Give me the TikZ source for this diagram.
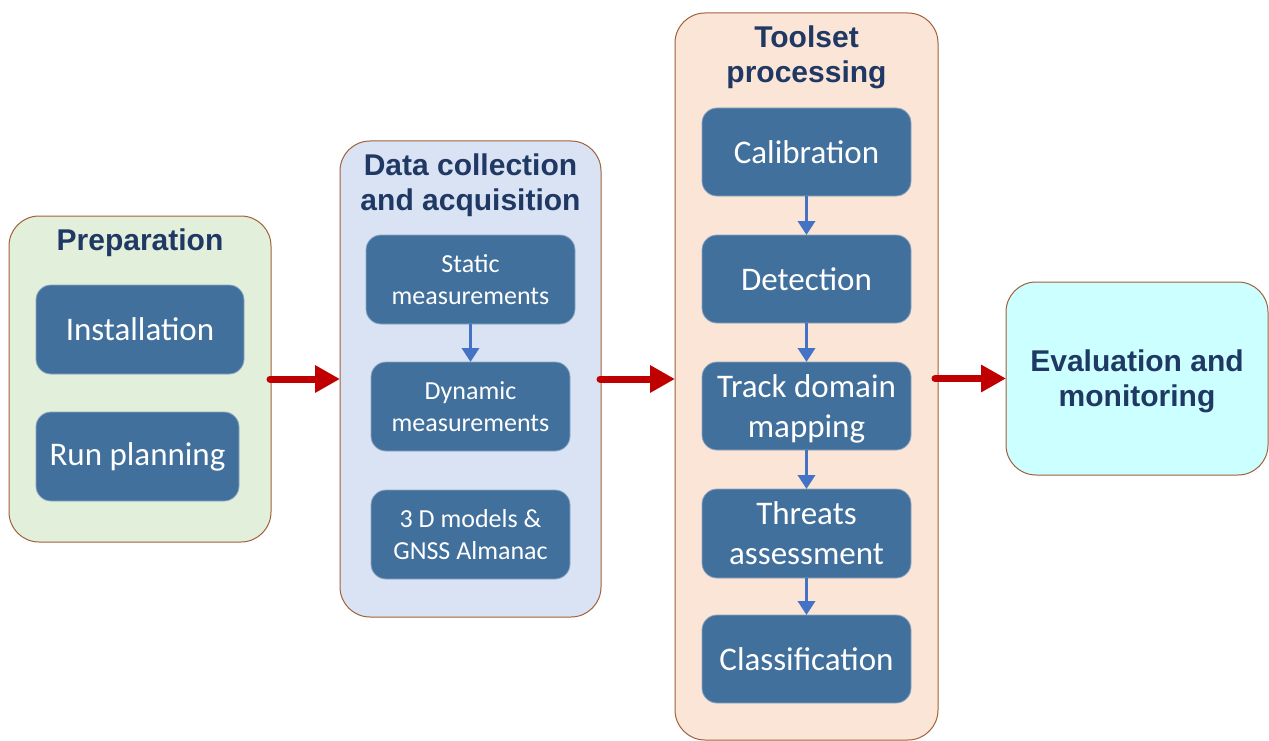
\documentclass[tikz,border=0pt]{standalone}
\usepackage{fontspec}
\setmainfont{Carlito}
\newfontfamily\titlefont{Liberation Sans}
\usetikzlibrary{arrows.meta}
\definecolor{innerblue}{HTML}{41709C}
\definecolor{innerline}{HTML}{8DA5C2}
\definecolor{titlenavy}{HTML}{1F3864}
\definecolor{outerline}{HTML}{A0603A}
\definecolor{prepfill}{HTML}{E2EFDA}
\definecolor{datafill}{HTML}{DAE3F3}
\definecolor{toolfill}{HTML}{FBE5D6}
\definecolor{evalfill}{HTML}{CCFFFF}
\definecolor{arrowred}{HTML}{C00000}
\definecolor{arrowblue}{HTML}{4472C4}
\tikzset{
  outerbox/.style={draw=outerline, line width=1pt, rounded corners=30pt, inner sep=0pt, outer sep=0pt},
  innerbox/.style={draw=innerline, line width=0.8pt, fill=innerblue, rounded corners=15pt, inner sep=0pt, outer sep=0pt, text=white, align=center, font=\fontsize{33}{40}\selectfont},
  smallbox/.style={innerbox, font=\fontsize{26}{32}\selectfont},
  titletext/.style={text=titlenavy, align=center, font=\titlefont\bfseries\fontsize{30}{35}\selectfont, inner sep=0pt},
  redarrow/.style={draw=arrowred, line width=7pt, line cap=round, -{Triangle[length=25pt,width=26pt]}},
  bluearrow/.style={draw=arrowblue, line width=3.5pt, -{Triangle[length=14pt,width=17pt]}},
}
\begin{document}
\begin{tikzpicture}[x=1pt,y=-1pt]
\useasboundingbox (0,0) rectangle (1269,741);
% outer containers
\node[outerbox, fill=prepfill, minimum width=262pt, minimum height=326pt] (prep) at (140,379) {};
\node[outerbox, fill=datafill, minimum width=261pt, minimum height=476pt] (data) at (470.5,379) {};
\node[outerbox, fill=toolfill, minimum width=263pt, minimum height=727pt] (tool) at (806.5,376.5) {};
\node[outerbox, fill=evalfill, minimum width=262pt, minimum height=193pt] (eval) at (1137,378.5) {};
\node[titletext] (evaltext) at (1137,381.5) {Evaluation and\\monitoring};
% titles
\node[titletext] (preptitle) at (140,243) {Preparation};
\node[titletext] (datatitle) at (470.5,185.5) {Data collection\\and acquisition};
\node[titletext] (tooltitle) at (806.5,57.5) {Toolset\\processing};
% preparation
\node[innerbox, minimum width=208pt, minimum height=89pt] (inst) at (140,329.5) {Installation};
\node[innerbox, minimum width=203pt, minimum height=89pt] (run) at (137.5,456.5) {Run planning};
% data collection
\node[smallbox, minimum width=209pt, minimum height=89pt] (static) at (470.5,279.5) {Static\\measurements};
\node[smallbox, minimum width=199pt, minimum height=89pt] (dyn) at (470.5,406.5) {Dynamic\\measurements};
\node[smallbox, minimum width=199pt, minimum height=89pt] (models) at (470.5,534.5) {3 D models \&\\GNSS Almanac};
% toolset
\node[innerbox, minimum width=209pt, minimum height=88pt] (calib) at (806.5,152) {Calibration};
\node[innerbox, minimum width=209pt, minimum height=88pt] (detect) at (806.5,279) {Detection};
\node[innerbox, minimum width=209pt, minimum height=88pt, text depth=0pt] (track) at (806.5,406) {Track domain\\mapping};
\node[innerbox, minimum width=209pt, minimum height=89pt] (threat) at (806.5,533.5) {Threats\\assessment};
\node[innerbox, minimum width=209pt, minimum height=88pt] (classif) at (806.5,659) {Classification};
% blue arrows
\draw[bluearrow] (static.south) -- (dyn.north);
\draw[bluearrow] (calib.south) -- (detect.north);
\draw[bluearrow] (detect.south) -- (track.north);
\draw[bluearrow] (track.south) -- (threat.north);
\draw[bluearrow] (threat.south) -- (classif.north);
% red arrows
\draw[redarrow] ([xshift=-1pt]prep.east) -- (data.west);
\draw[redarrow] ([xshift=-1pt]data.east) -- (data.east -| tool.west);
\draw[redarrow] ([xshift=-3pt]tool.east |- eval.west) -- (eval.west);
\end{tikzpicture}
\end{document}
